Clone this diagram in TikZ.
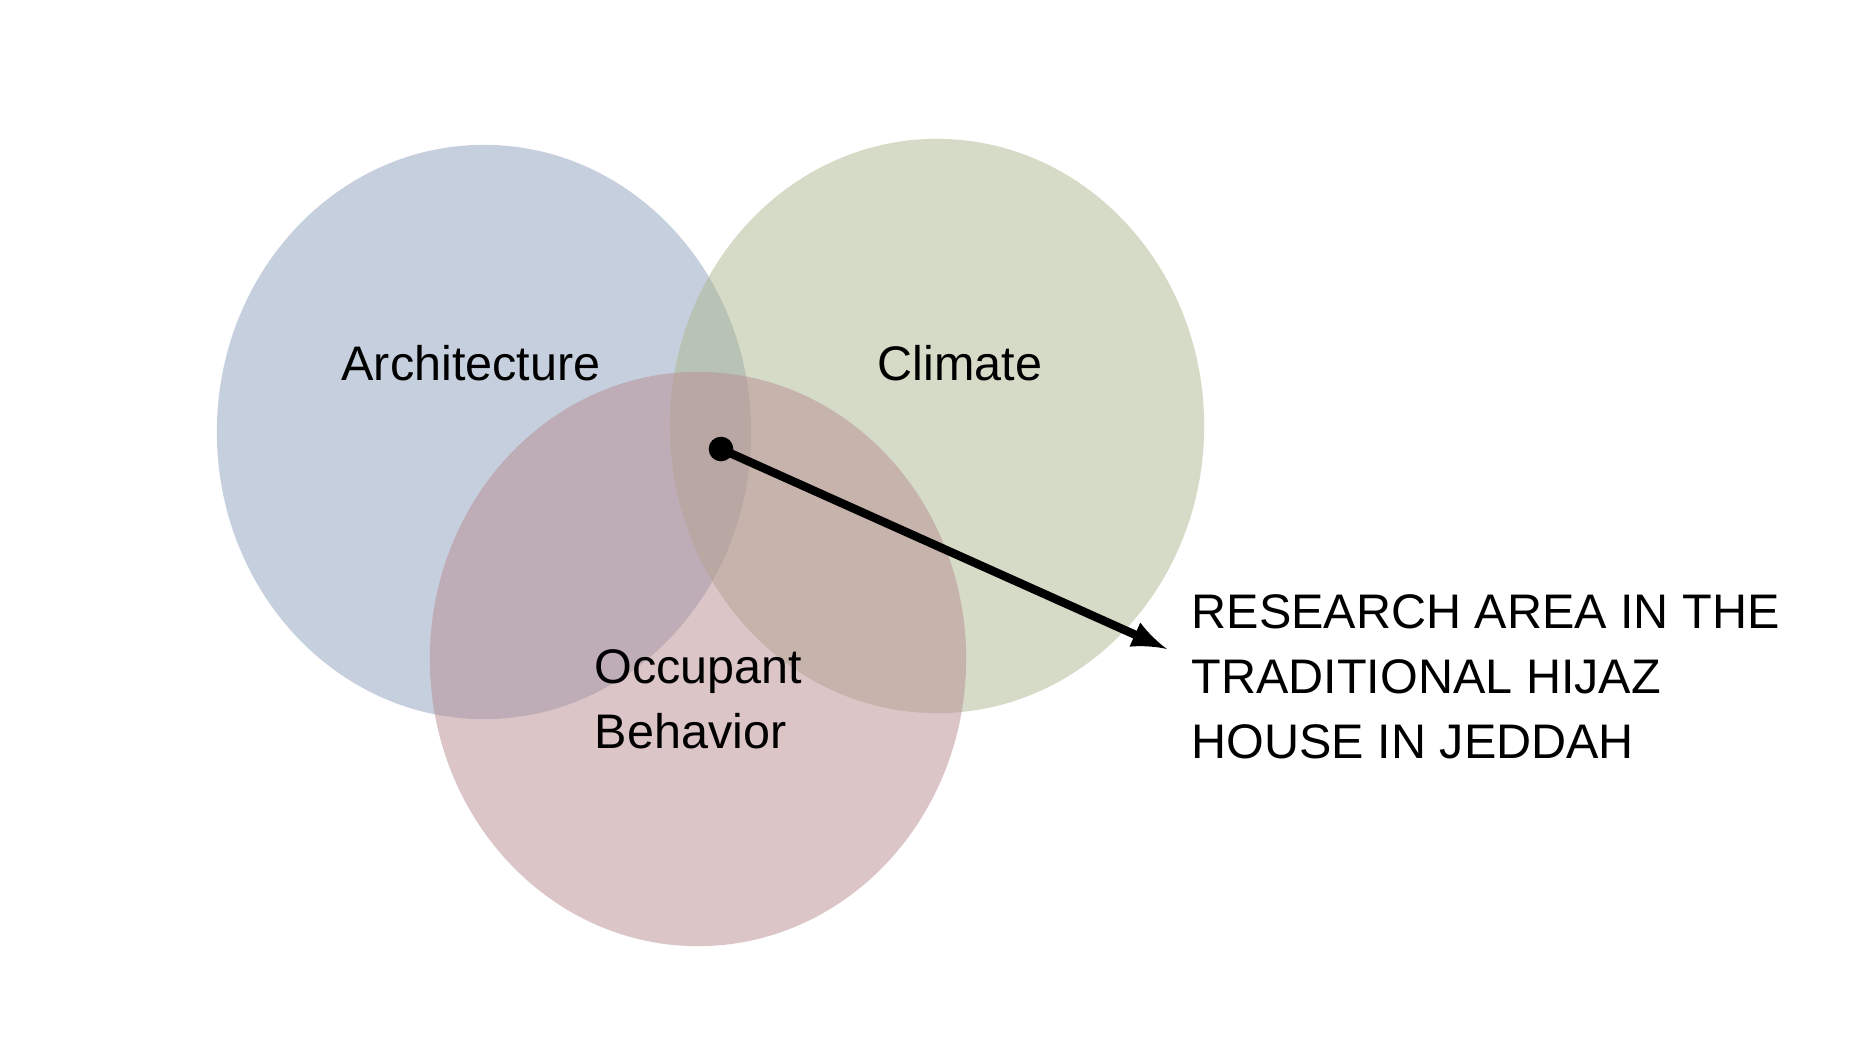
\documentclass[tikz,border=0pt]{standalone}
\usepackage{fontspec}
\setmainfont{Liberation Sans}
\usepackage{xcolor}
\usetikzlibrary{arrows}

\definecolor{archblue}{RGB}{141,161,189}
\definecolor{climgreen}{RGB}{173,185,145}
\definecolor{occred}{RGB}{185,141,145}

\tikzset{
  setbox/.style = {fill opacity = 0.5, draw = none},
  setlabel/.style = {inner sep = 0pt, font = \fontsize{13.8}{18.5}\selectfont},
  hubdot/.style = {circle, fill = black, inner sep = 0pt, minimum size = 7pt},
  pointer/.style = {-latex, line width = 2.4pt}
}

\begin{document}
\begin{tikzpicture} [x = 0.01cm, y = 0.01cm]
	\useasboundingbox (0,0) rectangle (1864,-1048);
	\fill [white] (0,0) rectangle (1864,-1048);
	% the three sets
	\fill [setbox, archblue] (484,-432) ellipse (2.67cm and 2.87cm);
	\fill [setbox, climgreen] (937,-426) ellipse (2.67cm and 2.87cm);
	\fill [setbox, occred] (698,-659) ellipse (2.68cm and 2.87cm);
	\node [setlabel] (arch) at (471,-363) {Architecture};
	\node [setlabel] (clim) at (960,-363) {Climate};
	\node [setlabel, anchor = west, align = left] (occ) at (594,-699) {Occupant\\Behavior};
	% research area
	\node [hubdot] (hub) at (721,-449) {};
	\node [setlabel, anchor = west, align = left] (area) at (1191,-677) {RESEARCH AREA IN THE\\TRADITIONAL HIJAZ\\HOUSE IN JEDDAH};
	\coordinate (tip) at (1167,-649);
	\draw [pointer] (hub.center) -- (tip);
\end{tikzpicture}
\end{document}
